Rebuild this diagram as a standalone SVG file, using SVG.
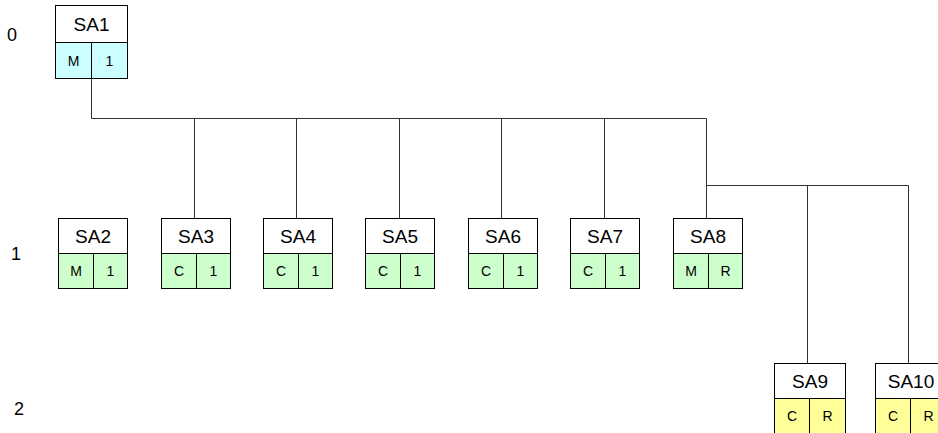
<svg xmlns="http://www.w3.org/2000/svg" width="938" height="433" viewBox="0 0 938 433">
<style>
.box{fill:#fff;stroke:#000;stroke-width:1}
.c0{fill:#ccffff;stroke:#000;stroke-width:1}
.c1{fill:#ccffcc;stroke:#000;stroke-width:1}
.c2{fill:#ffff99;stroke:#000;stroke-width:1}
.n{font-family:"Liberation Sans",Arial,sans-serif;font-size:19px;text-anchor:middle;fill:#000}
.s{font-family:"Liberation Sans",Arial,sans-serif;font-size:14px;text-anchor:middle;fill:#000}
.lv{font-family:"Liberation Sans",Arial,sans-serif;font-size:18px;fill:#000}
.ln{fill:none;stroke:#333;stroke-width:1}
</style>
<text class="lv" x="7" y="41">0</text>
<text class="lv" x="11" y="260">1</text>
<text class="lv" x="14" y="415">2</text>
<g id="connectors">
<path class="ln" d="M91.5 78V118.5H706.5V218M194.5 118.5V218M296.5 118.5V218M399.5 118.5V218M501.5 118.5V218M604.5 118.5V218M706.5 185.5H908.5V363M807.5 185.5V363"/>
</g>
<g id="SA1">
<rect class="box" x="55.5" y="5.5" width="72" height="37"/>
<rect class="c0" x="55.5" y="42.5" width="36" height="36"/>
<rect class="c0" x="91.5" y="42.5" width="36" height="36"/>
<text class="n" x="91.5" y="31">SA1</text>
<text class="s" x="73.5" y="66">M</text>
<text class="s" x="109.5" y="66">1</text>
</g>
<g id="SA2">
<rect class="box" x="58.5" y="218.5" width="69" height="35"/>
<rect class="c1" x="58.5" y="253.5" width="35" height="35"/>
<rect class="c1" x="93.5" y="253.5" width="34" height="35"/>
<text class="n" x="93" y="243">SA2</text>
<text class="s" x="76" y="276">M</text>
<text class="s" x="110.5" y="276">1</text>
</g>
<g id="SA3">
<rect class="box" x="161.5" y="218.5" width="69" height="35"/>
<rect class="c1" x="161.5" y="253.5" width="35" height="35"/>
<rect class="c1" x="196.5" y="253.5" width="34" height="35"/>
<text class="n" x="196" y="243">SA3</text>
<text class="s" x="179" y="276">C</text>
<text class="s" x="213.5" y="276">1</text>
</g>
<g id="SA4">
<rect class="box" x="263.5" y="218.5" width="69" height="35"/>
<rect class="c1" x="263.5" y="253.5" width="35" height="35"/>
<rect class="c1" x="298.5" y="253.5" width="34" height="35"/>
<text class="n" x="298" y="243">SA4</text>
<text class="s" x="281" y="276">C</text>
<text class="s" x="315.5" y="276">1</text>
</g>
<g id="SA5">
<rect class="box" x="365.5" y="218.5" width="69" height="35"/>
<rect class="c1" x="365.5" y="253.5" width="35" height="35"/>
<rect class="c1" x="400.5" y="253.5" width="34" height="35"/>
<text class="n" x="400" y="243">SA5</text>
<text class="s" x="383" y="276">C</text>
<text class="s" x="417.5" y="276">1</text>
</g>
<g id="SA6">
<rect class="box" x="468.5" y="218.5" width="69" height="35"/>
<rect class="c1" x="468.5" y="253.5" width="35" height="35"/>
<rect class="c1" x="503.5" y="253.5" width="34" height="35"/>
<text class="n" x="503" y="243">SA6</text>
<text class="s" x="486" y="276">C</text>
<text class="s" x="520.5" y="276">1</text>
</g>
<g id="SA7">
<rect class="box" x="570.5" y="218.5" width="69" height="35"/>
<rect class="c1" x="570.5" y="253.5" width="35" height="35"/>
<rect class="c1" x="605.5" y="253.5" width="34" height="35"/>
<text class="n" x="605" y="243">SA7</text>
<text class="s" x="588" y="276">C</text>
<text class="s" x="622.5" y="276">1</text>
</g>
<g id="SA8">
<rect class="box" x="673.5" y="218.5" width="69" height="35"/>
<rect class="c1" x="673.5" y="253.5" width="35" height="35"/>
<rect class="c1" x="708.5" y="253.5" width="34" height="35"/>
<text class="n" x="708" y="243">SA8</text>
<text class="s" x="691" y="276">M</text>
<text class="s" x="725.5" y="276">R</text>
</g>
<g id="SA9">
<rect class="box" x="774.5" y="363.5" width="71" height="35"/>
<rect class="c2" x="774.5" y="398.5" width="35" height="35"/>
<rect class="c2" x="809.5" y="398.5" width="36" height="35"/>
<text class="n" x="810" y="388">SA9</text>
<text class="s" x="792" y="421">C</text>
<text class="s" x="827.5" y="421">R</text>
</g>
<g id="SA10">
<rect class="box" x="875.5" y="363.5" width="71" height="35"/>
<rect class="c2" x="875.5" y="398.5" width="35" height="35"/>
<rect class="c2" x="910.5" y="398.5" width="36" height="35"/>
<text class="n" x="911" y="388">SA10</text>
<text class="s" x="893" y="421">C</text>
<text class="s" x="928.5" y="421">R</text>
</g>
</svg>
